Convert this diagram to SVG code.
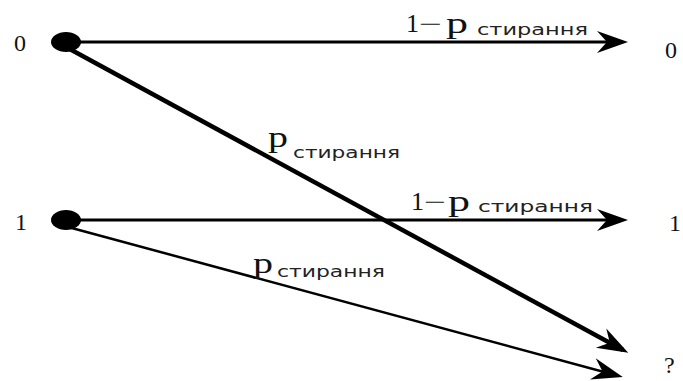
<svg xmlns="http://www.w3.org/2000/svg" width="683" height="381" viewBox="0 0 683 381">
<style>
.num{font-family:"Liberation Serif","Times New Roman",serif;fill:#111;}
.p{font-family:"Liberation Serif","Times New Roman",serif;fill:#111;font-size:30px;}
.sub{font-family:"DejaVu Sans","Liberation Sans",sans-serif;fill:#222;font-size:15px;}
.edge{stroke:#000;fill:none;stroke-linecap:butt;}
.dot{fill:#000;}
</style>
<defs>
<marker id="arr" markerUnits="userSpaceOnUse" markerWidth="34" markerHeight="24" viewBox="-27 -12 34 24" refX="0" refY="0" orient="auto">
<path d="M6,0 L-25,-11 L-15,0 L-25,11 Z" fill="#000"/>
</marker>
</defs>
<rect width="683" height="381" fill="#fff"/>
<g id="connectors">
<line class="edge" x1="66" y1="42" x2="622" y2="42" stroke-width="3" marker-end="url(#arr)"/>
<line class="edge" x1="66" y1="220" x2="622" y2="220" stroke-width="3" marker-end="url(#arr)"/>
<line class="edge" x1="66" y1="47" x2="623" y2="350" stroke-width="4.5" marker-end="url(#arr)"/>
<line class="edge" x1="68" y1="227" x2="617" y2="375.5" stroke-width="2.5" marker-end="url(#arr)"/>
</g>
<g id="labels">
<text class="num" x="406" y="32" font-size="26">1</text>
<text class="num" x="419" y="32" font-size="24" textLength="23" lengthAdjust="spacingAndGlyphs">−</text>
<text class="p" x="446" y="33" textLength="22" lengthAdjust="spacingAndGlyphs">p</text>
<text class="sub" x="477" y="35" textLength="111" lengthAdjust="spacingAndGlyphs">стирання</text>
<text class="num" x="411" y="210" font-size="26">1</text>
<text class="num" x="424" y="210" font-size="24" textLength="22" lengthAdjust="spacingAndGlyphs">−</text>
<text class="p" x="448" y="211" textLength="22" lengthAdjust="spacingAndGlyphs">p</text>
<text class="sub" x="478" y="212" textLength="115" lengthAdjust="spacingAndGlyphs">стирання</text>
<text class="p" x="268" y="147" textLength="20" lengthAdjust="spacingAndGlyphs">p</text>
<text class="sub" x="293" y="158" textLength="107" lengthAdjust="spacingAndGlyphs">стирання</text>
<text class="p" x="253" y="273" textLength="20" lengthAdjust="spacingAndGlyphs">p</text>
<text class="sub" x="277" y="277" textLength="108" lengthAdjust="spacingAndGlyphs">стирання</text>
</g>
<g id="node-in0">
<ellipse class="dot" cx="66" cy="42" rx="15" ry="10"/>
<text class="num" x="20" y="51" font-size="24" text-anchor="middle">0</text>
</g>
<g id="node-in1">
<ellipse class="dot" cx="66" cy="220" rx="15" ry="10"/>
<text class="num" x="21" y="230" font-size="24" text-anchor="middle">1</text>
</g>
<g id="node-out0">
<text class="num" x="671" y="58" font-size="24" text-anchor="middle">0</text>
</g>
<g id="node-out1">
<text class="num" x="669" y="231" font-size="24">1</text>
</g>
<g id="node-erase">
<text class="num" x="664" y="373" font-size="24">?</text>
</g>
</svg>
